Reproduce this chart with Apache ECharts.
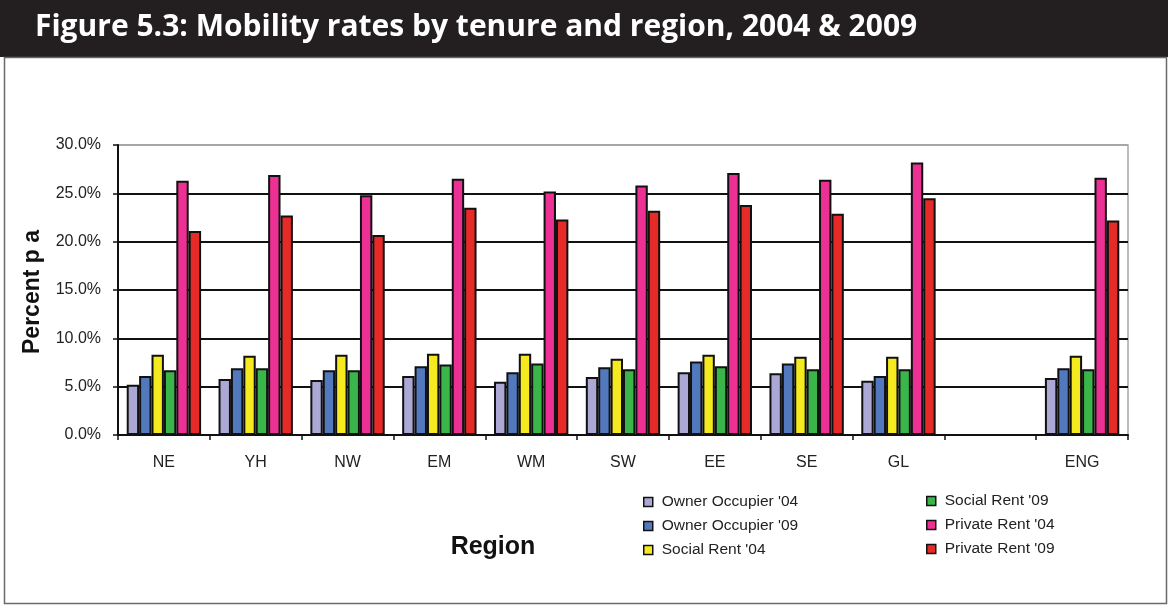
<!DOCTYPE html>
<html>
<head>
<meta charset="utf-8">
<style>
  html, body { margin: 0; padding: 0; background: #fff; }
  #chart { width: 1168px; height: 605px; }
</style>
<script src="https://cdn.jsdelivr.net/npm/echarts@6/dist/echarts.min.js"></script>
</head>
<body>
<div id="chart"></div>
<script>
const categories = ['NE', 'YH', 'NW', 'EM', 'WM', 'SW', 'EE', 'SE', 'GL', '', 'ENG'];
const seriesNames = ["Owner Occupier '04", "Owner Occupier '09", "Social Rent '04", "Social Rent '09", "Private Rent '04", "Private Rent '09"];
const ownerOcc04   = [5.2, 5.8, 5.7, 6.1, 5.5, 6.0, 6.5, 6.4, 5.6, null, 5.9];
const ownerOcc09   = [6.1, 6.9, 6.7, 7.1, 6.5, 7.0, 7.6, 7.4, 6.1, null, 6.9];
const socialRent04 = [8.3, 8.2, 8.3, 8.4, 8.4, 7.9, 8.3, 8.1, 8.1, null, 8.2];
const socialRent09 = [6.7, 6.9, 6.7, 7.3, 7.4, 6.8, 7.1, 6.8, 6.8, null, 6.8];
const privRent04   = [26.3, 26.9, 24.8, 26.5, 25.2, 25.8, 27.1, 26.4, 28.2, null, 26.6];
const privRent09   = [21.1, 22.7, 20.7, 23.5, 22.3, 23.2, 23.8, 22.9, 24.5, null, 22.2];
const yTicks = { min: 0, max: 30, interval: 5 };

const colors = ['#aba8d5', '#5278bd', '#f4ea1f', '#3ab54a', '#ec3094', '#e52a27'];
const allData = [ownerOcc04, ownerOcc09, socialRent04, socialRent09, privRent04, privRent09];

const chart = echarts.init(document.getElementById('chart'), null, { renderer: 'canvas' });
const font = '"Liberation Sans", Arial, sans-serif';

const legendCommon = {
  orient: 'vertical',
  padding: 0,
  itemWidth: 9,
  itemHeight: 9,
  itemGap: 8,
  icon: 'rect',
  itemStyle: { borderColor: '#111', borderWidth: 1.5 },
  textStyle: { fontFamily: 'Liberation Sans', fontSize: 15.5, lineHeight: 16, color: '#222', padding: [0, 0, 0, 4] }
};

chart.setOption({
  animation: false,
  backgroundColor: '#fff',
  color: colors,
  graphic: [
    { type: 'rect', z: -1, shape: { x: 0, y: 0, width: 1168, height: 57 }, style: { fill: '#231f20' } },
    { type: 'rect', z: -1, shape: { x: 4.5, y: 57.5, width: 1162, height: 546 }, style: { fill: 'none', stroke: '#6a6a6a', lineWidth: 1.5 } },
    { type: 'text', left: 35, top: 12, style: { text: 'Figure 5.3: Mobility rates by tenure and region, 2004 & 2009', fill: '#fff', font: 'bold 30px "Open Sans", sans-serif' } },
    { type: 'text', x: 493, y: 547, style: { text: 'Region', fill: '#111', font: 'bold 25px ' + font, align: 'center', verticalAlign: 'middle' } },
    { type: 'text', x: 33, y: 292, rotation: Math.PI / 2, style: { text: 'Percent p a', fill: '#111', font: 'bold 23px ' + font, align: 'center', verticalAlign: 'middle' } }
  ],
  legend: [
    Object.assign({}, legendCommon, { left: 643, top: 494, data: seriesNames.slice(0, 3) }),
    Object.assign({}, legendCommon, { left: 926, top: 493, data: seriesNames.slice(3) })
  ],
  grid: {
    left: 118, right: 40, top: 145, bottom: 170,
    show: true, borderColor: '#a6a6a6', borderWidth: 1.5, backgroundColor: '#fff'
  },
  xAxis: {
    type: 'category',
    data: categories,
    axisLine: { lineStyle: { color: '#111', width: 2 } },
    axisTick: { show: true, length: 5, alignWithLabel: false, lineStyle: { color: '#111', width: 1.5 } },
    axisLabel: { fontFamily: 'Liberation Sans', fontSize: 16, color: '#222', margin: 20, interval: 0 }
  },
  yAxis: {
    type: 'value',
    min: yTicks.min, max: yTicks.max, interval: yTicks.interval,
    axisLine: { show: true, lineStyle: { color: '#111', width: 2 } },
    axisTick: { show: true, length: 5, inside: false, lineStyle: { color: '#111', width: 1.5 } },
    splitLine: { show: true, lineStyle: { color: ['#111', '#111', '#111', '#111', '#111', '#111', '#a6a6a6'], width: 2 } },
    axisLabel: { fontFamily: 'Liberation Sans', fontSize: 16, color: '#222', margin: 17, formatter: v => v.toFixed(1) + '%' }
  },
  series: seriesNames.map((name, i) => ({
    name: name,
    type: 'bar',
    data: allData[i],
    barGap: '0%',
    barCategoryGap: '19%',
    itemStyle: { color: colors[i], borderColor: '#111', borderWidth: 2 }
  }))
});
</script>
</body>
</html>
